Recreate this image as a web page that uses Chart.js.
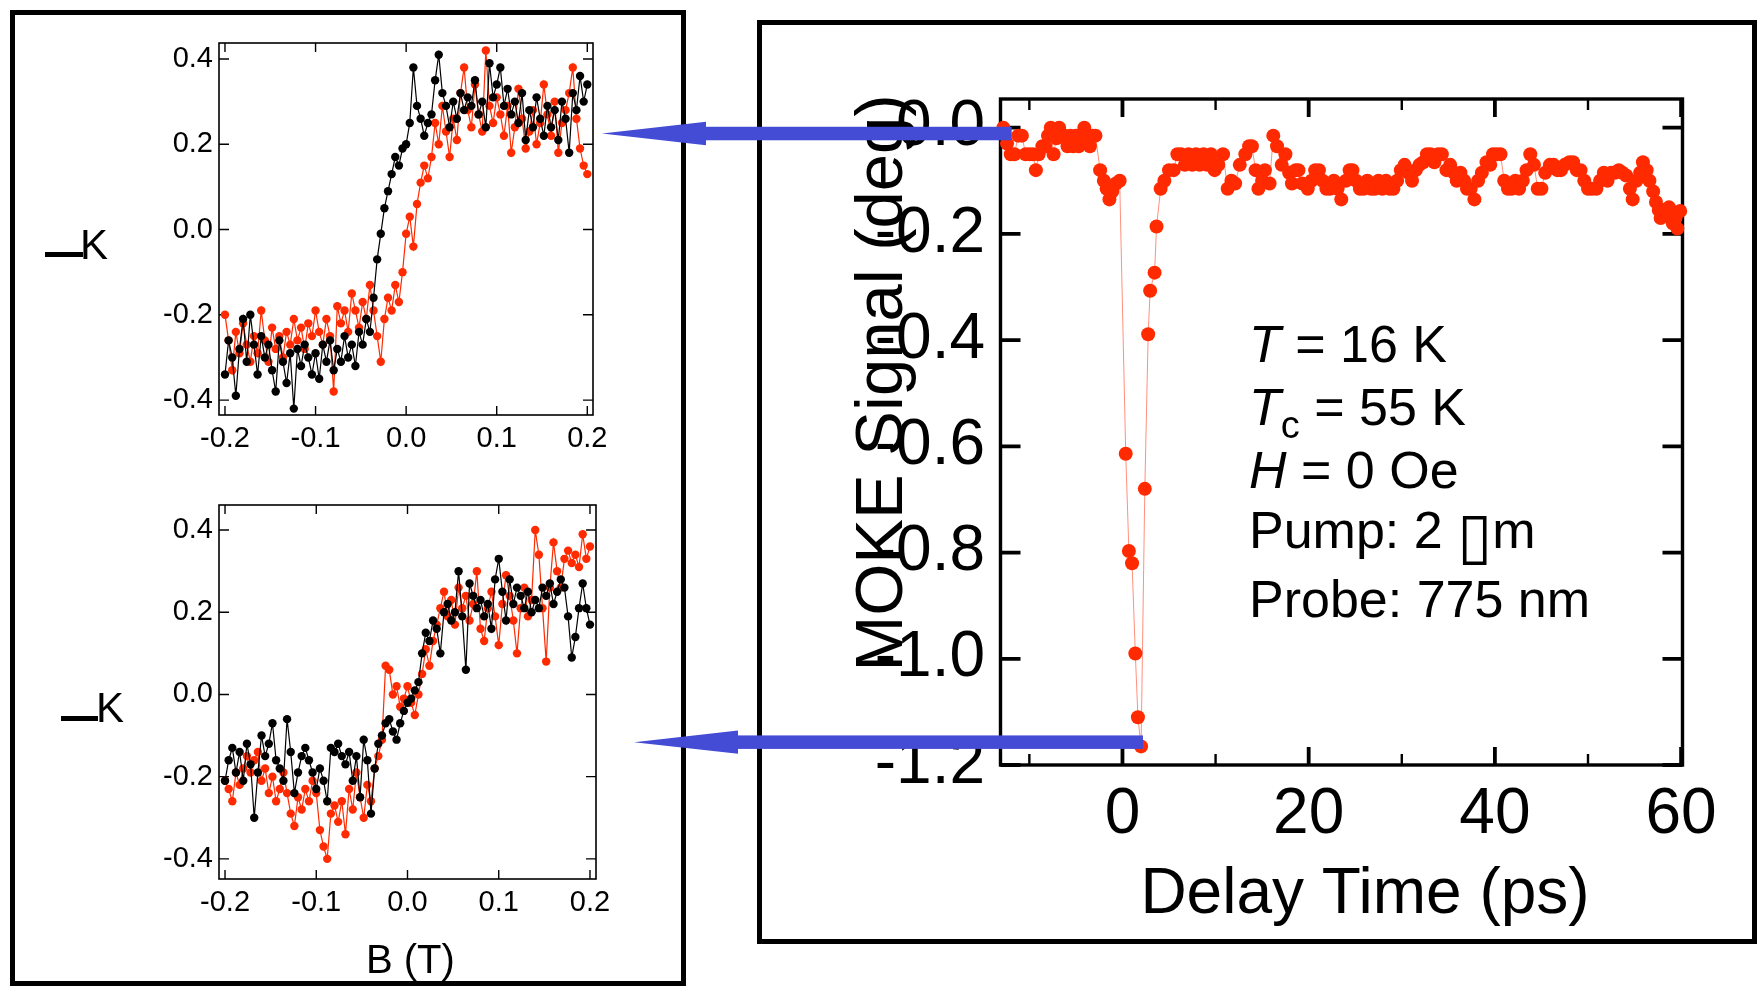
<!DOCTYPE html>
<html>
<head>
<meta charset="utf-8">
<title>Kerr loops and MOKE delay scan</title>
<script src="https://cdn.jsdelivr.net/npm/chart.js@4.4.1/dist/chart.umd.min.js"></script>
<style>
  html, body { margin: 0; padding: 0; background: #fff; }
  #page { position: relative; width: 1757px; height: 986px; overflow: hidden; background: #fff; }
  .panel { position: absolute; box-sizing: border-box; border: 5px solid #000; background: #fff; }
  #panelLeft { left: 10px; top: 10px; width: 676px; height: 976px; }
  #panelRight { left: 757px; top: 20px; width: 1000px; height: 924px; }
  canvas { position: absolute; }
  #loopTop { left: 20px; top: 15px; }
  #loopBottom { left: 20px; top: 478px; }
  #delayPlot { left: 770px; top: 25px; }
  #overlay { left: 0; top: 0; pointer-events: none; }
</style>
</head>
<body>
<div id="page">
  <div class="panel" id="panelLeft"></div>
  <div class="panel" id="panelRight"></div>
  <canvas id="loopTop" width="663" height="455"></canvas>
  <canvas id="loopBottom" width="663" height="505"></canvas>
  <canvas id="delayPlot" width="987" height="911"></canvas>
  <canvas id="overlay" width="1757" height="986"></canvas>
</div>
<script>
// field sweep (T)
const fieldB = [
  -0.200, -0.196, -0.192, -0.188, -0.184, -0.180, -0.176, -0.172, -0.168, -0.164,
  -0.160, -0.156, -0.152, -0.148, -0.144, -0.140, -0.136, -0.132, -0.128, -0.124,
  -0.120, -0.116, -0.112, -0.108, -0.104, -0.100, -0.096, -0.092, -0.088, -0.084,
  -0.080, -0.076, -0.072, -0.068, -0.064, -0.060, -0.056, -0.052, -0.048, -0.044,
  -0.040, -0.036, -0.032, -0.028, -0.024, -0.020, -0.016, -0.012, -0.008, -0.004,
  0.000, 0.004, 0.008, 0.012, 0.016, 0.020, 0.024, 0.028, 0.032, 0.036,
  0.040, 0.044, 0.048, 0.052, 0.056, 0.060, 0.064, 0.068, 0.072, 0.076,
  0.080, 0.084, 0.088, 0.092, 0.096, 0.100, 0.104, 0.108, 0.112, 0.116,
  0.120, 0.124, 0.128, 0.132, 0.136, 0.140, 0.144, 0.148, 0.152, 0.156,
  0.160, 0.164, 0.168, 0.172, 0.176, 0.180, 0.184, 0.188, 0.192, 0.196,
  0.200
];

const kerrTopBlack = [
  -0.34, -0.26, -0.30, -0.39, -0.28, -0.21, -0.31, -0.20, -0.27, -0.34,
  -0.25, -0.30, -0.27, -0.33, -0.38, -0.26, -0.31, -0.36, -0.29, -0.42,
  -0.28, -0.32, -0.27, -0.30, -0.34, -0.29, -0.35, -0.27, -0.31, -0.26,
  -0.33, -0.28, -0.31, -0.25, -0.30, -0.27, -0.32, -0.24, -0.27, -0.21,
  -0.24, -0.16, -0.07, -0.01, 0.05, 0.09, 0.13, 0.17, 0.15, 0.19,
  0.20, 0.25, 0.38, 0.29, 0.26, 0.22, 0.25, 0.27, 0.35, 0.41,
  0.32, 0.29, 0.24, 0.30, 0.26, 0.32, 0.28, 0.31, 0.29, 0.35,
  0.27, 0.30, 0.24, 0.39, 0.31, 0.34, 0.38, 0.29, 0.33, 0.27,
  0.30, 0.25, 0.32, 0.21, 0.28, 0.24, 0.31, 0.26, 0.22, 0.29,
  0.24, 0.28, 0.21, 0.30, 0.26, 0.18, 0.32, 0.28, 0.36, 0.30,
  0.34
];

const kerrTopRed = [
  -0.20, -0.26, -0.33, -0.24, -0.29, -0.22, -0.27, -0.31, -0.25, -0.29,
  -0.19, -0.26, -0.31, -0.23, -0.28, -0.25, -0.30, -0.24, -0.27, -0.21,
  -0.26, -0.23, -0.28, -0.22, -0.25, -0.19, -0.24, -0.27, -0.21, -0.25,
  -0.38, -0.18, -0.22, -0.19, -0.24, -0.15, -0.19, -0.23, -0.17, -0.21,
  -0.13, -0.19, -0.25, -0.31, -0.21, -0.16, -0.19, -0.13, -0.17, -0.10,
  -0.01, 0.03, -0.04, 0.06, 0.11, 0.15, 0.12, 0.17, 0.25, 0.20,
  0.29, 0.23, 0.17, 0.26, 0.21, 0.32, 0.38, 0.28, 0.24, 0.34,
  0.27, 0.23, 0.42, 0.29, 0.25, 0.31, 0.27, 0.22, 0.29, 0.18,
  0.24, 0.33, 0.26, 0.19, 0.23, 0.28, 0.20, 0.25, 0.34, 0.27,
  0.22, 0.30, 0.18, 0.25, 0.28, 0.32, 0.38, 0.26, 0.19, 0.15,
  0.13
];

const kerrBottomBlack = [
  -0.21, -0.16, -0.13, -0.19, -0.14, -0.21, -0.12, -0.17, -0.30, -0.19,
  -0.10, -0.15, -0.12, -0.07, -0.16, -0.18, -0.21, -0.06, -0.14, -0.24,
  -0.19, -0.15, -0.13, -0.16, -0.19, -0.23, -0.18, -0.21, -0.26, -0.13,
  -0.14, -0.12, -0.15, -0.17, -0.14, -0.21, -0.15, -0.25, -0.11, -0.16,
  -0.29, -0.18, -0.12, -0.10, -0.07, -0.06, -0.09, -0.11, -0.07, -0.04,
  -0.02, -0.01, 0.01, 0.03, 0.10, 0.15, 0.13, 0.18, 0.16, 0.10,
  0.20, 0.22, 0.18, 0.20, 0.30, 0.19, 0.06, 0.27, 0.24, 0.21,
  0.23, 0.19, 0.22, 0.16, 0.28, 0.33, 0.25, 0.18, 0.28, 0.22,
  0.26, 0.24, 0.21, 0.25, 0.20, 0.23, 0.21, 0.26, 0.24, 0.27,
  0.22, 0.25, 0.28, 0.26, 0.19, 0.09, 0.14, 0.21, 0.27, 0.21,
  0.17
];

const kerrBottomRed = [
  -0.21, -0.23, -0.26, -0.19, -0.22, -0.18, -0.15, -0.19, -0.16, -0.14,
  -0.21, -0.18, -0.24, -0.20, -0.26, -0.23, -0.19, -0.24, -0.29, -0.32,
  -0.25, -0.28, -0.23, -0.26, -0.21, -0.24, -0.33, -0.37, -0.40, -0.29,
  -0.27, -0.31, -0.26, -0.34, -0.23, -0.28, -0.19, -0.25, -0.30, -0.22,
  -0.26, -0.18, -0.15, -0.11, 0.07, 0.06, 0.00, 0.02, -0.03, -0.01,
  0.02, -0.02, -0.05, 0.00, 0.05, 0.11, 0.07, 0.13, 0.17, 0.21,
  0.25, 0.19, 0.23, 0.17, 0.26, 0.21, 0.24, 0.18, 0.22, 0.30,
  0.16, 0.13, 0.21, 0.25, 0.19, 0.12, 0.22, 0.29, 0.24, 0.18,
  0.10, 0.21, 0.26, 0.19, 0.23, 0.40, 0.34, 0.21, 0.08, 0.26,
  0.37, 0.30, 0.26, 0.33, 0.35, 0.32, 0.34, 0.31, 0.39, 0.33,
  0.36
];

// pump-probe delay scan
const delayTime = [
  -12.8, -12.4, -12.0, -11.6, -11.2, -10.8, -10.4, -10.0, -9.6, -9.3,
  -9.0, -8.6, -8.3, -8.0, -7.7, -7.4, -7.1, -6.8, -6.5, -6.2,
  -5.9, -5.6, -5.3, -5.0, -4.7, -4.4, -4.1, -3.8, -3.5, -3.2,
  -2.9, -2.4, -2.0, -1.7, -1.4, -1.1, -0.7, -0.3,
  0.35, 0.69, 1.03, 1.38, 1.66, 2.0, 2.4, 2.76, 2.97, 3.45, 3.66, 4.1, 4.5,
  5.0, 5.5, 5.9, 6.3, 6.7, 7.1, 7.5, 7.9, 8.3, 8.7,
  9.1, 9.5, 9.9, 10.3, 10.8, 11.3, 11.7, 12.1, 12.6, 13.2,
  13.6, 13.9, 14.3, 14.6, 15.0, 15.3, 15.8, 16.2, 16.6, 17.1,
  17.5, 17.9, 18.2, 18.6, 18.9, 19.3, 19.9, 20.3, 20.7, 21.1,
  21.5, 21.9, 22.3, 22.7, 23.1, 23.5, 24.0, 24.4, 24.7, 25.1,
  25.5, 25.9, 26.3, 26.7, 27.1, 27.5, 27.9, 28.3, 28.7, 29.1,
  29.5, 29.9, 30.3, 30.7, 31.1, 31.5, 31.9, 32.3, 32.7, 33.1,
  33.5, 33.9, 34.3, 34.8, 35.2, 35.6, 35.9, 36.3, 36.7, 37.0,
  37.4, 37.8, 38.2, 38.6, 39.1, 39.5, 39.8, 40.2, 40.6, 41.0,
  41.4, 41.8, 42.2, 42.6, 43.0, 43.4, 43.8, 44.2, 44.6, 45.0,
  45.4, 45.9, 46.3, 46.7, 47.1, 47.5, 48.0, 48.4, 48.8, 49.2,
  49.6, 50.0, 50.4, 50.9, 51.3, 51.7, 52.1, 52.5, 52.9, 53.3,
  53.7, 54.1, 54.5, 54.8, 55.2, 55.6, 55.9, 56.3, 56.6, 57.0,
  57.3, 57.6, 57.8, 58.1, 58.4, 58.7, 59.1, 59.4, 59.6, 59.9
];

const mokeSignal = [
  0.00, -0.03, -0.05, -0.05, -0.015, -0.015, -0.05, -0.05, -0.05, -0.08,
  -0.05, -0.035, -0.035, -0.015, 0.00, -0.05, -0.02, 0.00, -0.015, -0.015,
  -0.035, -0.015, -0.035, -0.015, -0.035, -0.015, 0.00, -0.015, -0.035, -0.015,
  -0.015, -0.08, -0.10, -0.115, -0.135, -0.12, -0.105, -0.10,
  -0.614, -0.797, -0.82, -0.99, -1.11, -1.165, -0.68, -0.389, -0.307, -0.273, -0.186, -0.115, -0.10,
  -0.08, -0.08, -0.05, -0.05, -0.07, -0.05, -0.07, -0.05, -0.07, -0.05,
  -0.07, -0.05, -0.08, -0.07, -0.05, -0.115, -0.10, -0.105, -0.07, -0.05,
  -0.035, -0.035, -0.08, -0.115, -0.10, -0.08, -0.105, -0.015, -0.035, -0.07,
  -0.05, -0.085, -0.105, -0.08, -0.08, -0.105, -0.115, -0.10, -0.08, -0.08,
  -0.10, -0.115, -0.115, -0.10, -0.115, -0.135, -0.10, -0.08, -0.08, -0.10,
  -0.115, -0.115, -0.10, -0.115, -0.115, -0.10, -0.115, -0.10, -0.115, -0.115,
  -0.10, -0.08, -0.07, -0.085, -0.10, -0.08, -0.07, -0.065, -0.05, -0.05,
  -0.065, -0.05, -0.05, -0.08, -0.07, -0.085, -0.10, -0.085, -0.10, -0.115,
  -0.115, -0.135, -0.10, -0.085, -0.065, -0.07, -0.05, -0.05, -0.05, -0.10,
  -0.115, -0.115, -0.10, -0.115, -0.10, -0.08, -0.05, -0.07, -0.115, -0.115,
  -0.085, -0.07, -0.07, -0.08, -0.08, -0.07, -0.065, -0.065, -0.08, -0.08,
  -0.10, -0.115, -0.115, -0.115, -0.10, -0.085, -0.10, -0.085, -0.085, -0.08,
  -0.085, -0.09, -0.115, -0.135, -0.10, -0.085, -0.065, -0.08, -0.10, -0.12,
  -0.14, -0.155, -0.17, -0.155, -0.165, -0.15, -0.18, -0.17, -0.19, -0.157
];

const fieldTicks = [-0.2, -0.1, 0.0, 0.1, 0.2];
const kerrTicks = [-0.4, -0.2, 0.0, 0.2, 0.4];
const delayTicks = [-10, 0, 10, 20, 30, 40, 50, 60];
const delayLabelTicks = [0, 20, 40, 60];
const mokeTicks = [0.0, -0.2, -0.4, -0.6, -0.8, -1.0, -1.2];

const SANS = "'Liberation Sans', Arial, Helvetica, sans-serif";
const RED = '#ff2a00';
const BLACK = '#000000';
const BLUE = '#444bd4';

// frame box with inward tick marks on all four sides
function frameTicks(st) {
  return {
    id: 'frameTicks',
    beforeDatasetsDraw(chart) {
      const { ctx, chartArea: a, scales: { x, y } } = chart;
      ctx.save();
      ctx.strokeStyle = '#000';
      ctx.lineWidth = st.frame;
      ctx.strokeRect(a.left, a.top, a.right - a.left, a.bottom - a.top);
      x.ticks.forEach(t => {
        const px = x.getPixelForValue(t.value);
        const major = !st.xMajor || st.xMajor.includes(t.value);
        const len = major ? st.xLen : st.xMinorLen;
        ctx.lineWidth = major ? st.tick : st.minorTick;
        ctx.beginPath();
        ctx.moveTo(px, a.top);
        ctx.lineTo(px, a.top + len);
        ctx.moveTo(px, a.bottom);
        ctx.lineTo(px, a.bottom - len);
        ctx.stroke();
      });
      ctx.lineWidth = st.tick;
      y.ticks.forEach(t => {
        const py = y.getPixelForValue(t.value);
        ctx.beginPath();
        ctx.moveTo(a.left, py);
        ctx.lineTo(a.left + st.yLen, py);
        ctx.moveTo(a.right, py);
        ctx.lineTo(a.right - st.yLen, py);
        ctx.stroke();
      });
      ctx.restore();
    }
  };
}

// free text (titles, labels, annotation) drawn as runs of mixed fonts
function textLayer(items) {
  return {
    id: 'textLayer',
    afterDraw(chart) {
      const ctx = chart.ctx;
      items.forEach(item => {
        ctx.save();
        ctx.fillStyle = '#000';
        if (item.rect) {
          ctx.fillRect(item.rect[0], item.rect[1], item.rect[2], item.rect[3]);
          ctx.restore();
          return;
        }
        ctx.translate(item.x, item.y);
        if (item.rotate) ctx.rotate(item.rotate);
        ctx.textAlign = 'left';
        ctx.textBaseline = 'alphabetic';
        let total = 0;
        item.runs.forEach(r => {
          ctx.font = r.font;
          total += ctx.measureText(r.text).width;
        });
        let cx = item.align === 'center' ? -total / 2 : 0;
        item.runs.forEach(r => {
          ctx.font = r.font;
          ctx.fillText(r.text, cx, r.dy || 0);
          cx += ctx.measureText(r.text).width;
        });
        ctx.restore();
      });
    }
  };
}

function loopDataset(values, color) {
  return {
    data: fieldB.map((b, i) => ({ x: b, y: values[i] })),
    borderColor: color,
    borderWidth: 1.2,
    backgroundColor: color,
    pointRadius: 4.2,
    pointBorderWidth: 0,
    pointBackgroundColor: color,
    tension: 0,
    clip: false
  };
}

function tickFont(size) {
  return { family: SANS, size: size, weight: 'normal' };
}

function loopOptions(cfg) {
  return {
    responsive: false,
    animation: false,
    devicePixelRatio: 1,
    events: [],
    layout: { padding: { left: 0, top: cfg.padTop, right: cfg.padRight, bottom: 0 } },
    plugins: { legend: { display: false }, tooltip: { enabled: false } },
    scales: {
      x: {
        type: 'linear',
        min: cfg.xMin,
        max: cfg.xMax,
        afterFit: s => { s.height = cfg.xHeight; },
        afterBuildTicks: s => { s.ticks = fieldTicks.map(v => ({ value: v })); },
        grid: { display: false, drawTicks: false },
        border: { display: false },
        ticks: {
          padding: 7, color: '#000', font: tickFont(29), autoSkip: false, maxRotation: 0,
          callback: v => v.toFixed(1)
        }
      },
      y: {
        type: 'linear',
        min: cfg.yMin,
        max: cfg.yMax,
        afterFit: s => { s.width = cfg.yWidth; },
        afterBuildTicks: s => { s.ticks = kerrTicks.map(v => ({ value: v })); },
        grid: { display: false, drawTicks: false },
        border: { display: false },
        ticks: {
          padding: 6, color: '#000', font: tickFont(29), autoSkip: false,
          callback: v => v.toFixed(1)
        }
      }
    }
  };
}

const thinFrame = { frame: 1.6, tick: 1.4, xLen: 9, yLen: 10 };
const boldFrame = { frame: 3.4, tick: 3.8, minorTick: 2.4, xLen: 18, xMinorLen: 11, yLen: 20, xMajor: delayLabelTicks };

const loopTop = new Chart(document.getElementById('loopTop'), {
  type: 'line',
  data: { datasets: [loopDataset(kerrTopBlack, BLACK), loopDataset(kerrTopRed, RED)] },
  options: loopOptions({
    xMin: -0.2066, xMax: 0.2063, yMin: -0.435, yMax: 0.4375,
    padTop: 28, padRight: 90, yWidth: 199, xHeight: 55
  }),
  plugins: [
    frameTicks(thinFrame),
    textLayer([
      { rect: [25, 237, 38, 5] },
      { x: 60, y: 244.3, runs: [{ text: 'K', font: `42px ${SANS}` }] }
    ])
  ]
});

const loopBottom = new Chart(document.getElementById('loopBottom'), {
  type: 'line',
  data: { datasets: [loopDataset(kerrBottomBlack, BLACK), loopDataset(kerrBottomRed, RED)] },
  options: loopOptions({
    xMin: -0.2066, xMax: 0.2066, yMin: -0.449, yMax: 0.461,
    padTop: 27, padRight: 87, yWidth: 199, xHeight: 104
  }),
  plugins: [
    frameTicks(thinFrame),
    textLayer([
      { rect: [41, 238, 37, 5] },
      { x: 76, y: 244, runs: [{ text: 'K', font: `42px ${SANS}` }] },
      { x: 346, y: 495, runs: [{ text: 'B (T)', font: `40px ${SANS}` }] }
    ])
  ]
});

const annFont = `52px ${SANS}`;
const annItalic = `italic 52px ${SANS}`;

const delayPlot = new Chart(document.getElementById('delayPlot'), {
  type: 'line',
  data: {
    datasets: [{
      data: delayTime.map((t, i) => ({ x: t, y: mokeSignal[i] })),
      borderColor: 'rgba(255, 70, 40, 0.6)',
      borderWidth: 1,
      backgroundColor: RED,
      pointRadius: 7,
      pointBorderWidth: 0,
      pointBackgroundColor: RED,
      tension: 0,
      clip: false
    }]
  },
  options: {
    responsive: false,
    animation: false,
    devicePixelRatio: 1,
    events: [],
    layout: { padding: { left: 0, top: 74, right: 74.5, bottom: 0 } },
    plugins: { legend: { display: false }, tooltip: { enabled: false } },
    scales: {
      x: {
        type: 'linear',
        min: -13.1,
        max: 60.15,
        afterFit: s => { s.height = 171; },
        afterBuildTicks: s => { s.ticks = delayTicks.map(v => ({ value: v })); },
        grid: { display: false, drawTicks: false },
        border: { display: false },
        ticks: {
          padding: 11.6, color: '#000', font: tickFont(64), autoSkip: false, maxRotation: 0,
          callback: v => delayLabelTicks.includes(v) ? String(v) : ''
        }
      },
      y: {
        type: 'linear',
        min: -1.2,
        max: 0.054,
        afterFit: s => { s.width = 230.5; },
        afterBuildTicks: s => { s.ticks = mokeTicks.map(v => ({ value: v })); },
        grid: { display: false, drawTicks: false },
        border: { display: false },
        ticks: {
          padding: 15.5, color: '#000', font: tickFont(64), autoSkip: false,
          callback: v => v.toFixed(1)
        }
      }
    }
  },
  plugins: [
    frameTicks(boldFrame),
    textLayer([
      { x: 132, y: 358, rotate: -Math.PI / 2, align: 'center',
        runs: [{ text: 'MOKE Signal (deg)', font: `67px ${SANS}` }] },
      { x: 595, y: 888, align: 'center',
        runs: [{ text: 'Delay Time (ps)', font: `64px ${SANS}` }] },
      { x: 479, y: 337, runs: [{ text: 'T', font: annItalic }, { text: ' = 16 K', font: annFont }] },
      { x: 479, y: 400, runs: [
        { text: 'T', font: annItalic },
        { text: 'c', font: `38px ${SANS}`, dy: 13 },
        { text: ' = 55 K', font: annFont }
      ] },
      { x: 479, y: 463, runs: [{ text: 'H', font: annItalic }, { text: ' = 0 Oe', font: annFont }] },
      { x: 479, y: 523, runs: [
        { text: 'Pump: 2 ', font: annFont },
        { text: '\u25AF', font: `64px 'DejaVu Sans'`, dy: 9 },
        { text: 'm', font: annFont }
      ] },
      { x: 479, y: 592, runs: [{ text: 'Probe: 775 nm', font: annFont }] }
    ])
  ]
});

// blue arrows linking the delay scan to the two hysteresis loops
const arrowTargets = [
  { t: -11.9, v: -0.011, tipX: 602 },
  { t: 2.2, v: -1.157, tipX: 634 }
];

function drawArrows() {
  const canvas = document.getElementById('overlay');
  const ctx = canvas.getContext('2d');
  const src = document.getElementById('delayPlot');
  const { x, y } = delayPlot.scales;
  const headLen = 104, headHalf = 11.7, shaft = 13.5;
  ctx.fillStyle = BLUE;
  arrowTargets.forEach(a => {
    const tailX = src.offsetLeft + x.getPixelForValue(a.t);
    const yy = src.offsetTop + y.getPixelForValue(a.v);
    ctx.fillRect(a.tipX + headLen - 1, yy - shaft / 2, tailX - a.tipX - headLen + 1, shaft);
    ctx.beginPath();
    ctx.moveTo(a.tipX, yy);
    ctx.lineTo(a.tipX + headLen, yy - headHalf);
    ctx.lineTo(a.tipX + headLen, yy + headHalf);
    ctx.closePath();
    ctx.fill();
  });
}

drawArrows();
</script>
</body>
</html>
